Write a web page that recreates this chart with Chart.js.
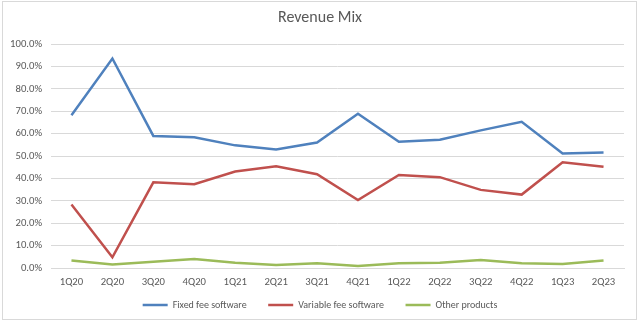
<!DOCTYPE html>
<html>
<head>
<meta charset="utf-8">
<title>Revenue Mix</title>
<script src="https://cdn.jsdelivr.net/npm/chart.js@4/dist/chart.umd.min.js"></script>
<style>
  html, body { margin: 0; padding: 0; background: #fff; }
  #holder { position: relative; width: 640px; height: 323px; }
</style>
</head>
<body>
<div id="holder"><canvas id="chart"></canvas></div>
<script>
// quarters on the x axis
var quarters = ['1Q20', '2Q20', '3Q20', '4Q20', '1Q21', '2Q21', '3Q21',
                '4Q21', '1Q22', '2Q22', '3Q22', '4Q22', '1Q23', '2Q23'];

// share of revenue, in percent
var fixedFee    = [68.3, 93.6, 59.0, 58.4, 54.8, 53.0, 56.1, 68.9, 56.4, 57.3, 61.5, 65.3, 51.2, 51.6];
var variableFee = [28.4, 4.8, 38.3, 37.4, 43.1, 45.5, 41.9, 30.4, 41.6, 40.6, 34.9, 32.8, 47.2, 45.2];
var otherProd   = [3.3, 1.6, 2.8, 4.0, 2.4, 1.3, 2.1, 0.9, 2.1, 2.4, 3.6, 2.1, 1.8, 3.3];

var yTicks = [0, 10, 20, 30, 40, 50, 60, 70, 80, 90, 100];

var FONT = "Carlito, Calibri, 'Liberation Sans Narrow', 'Liberation Sans', Arial, sans-serif";
var textGrey = '#595959';
var small = 10.67;

function series(label, data, color) {
    return {
        label: label,
        data: data,
        borderColor: color,
        backgroundColor: color,
        borderWidth: 2.5,
        pointRadius: 0,
        pointHoverRadius: 0,
        pointStyle: 'line',
        tension: 0
    };
}

// white sheet with a thin frame, like the excel chart box
var framePlugin = {
    id: 'frame',
    beforeDraw: function(chart) {
        var c = chart.ctx;
        c.save();
        c.fillStyle = '#fff';
        c.fillRect(0, 0, chart.width, chart.height);
        c.strokeStyle = '#d9d9d9';
        c.lineWidth = 1;
        c.strokeRect(2.5, 1.5, 634, 318);
        c.restore();
    }
};

new Chart(document.getElementById('chart'), {
    type: 'line',
    data: {
        labels: quarters,
        datasets: [
            series('Fixed fee software', fixedFee, '#4F81BD'),
            series('Variable fee software', variableFee, '#C0504D'),
            series('Other products', otherProd, '#9BBB59')
        ]
    },
    options: {
        responsive: true,
        maintainAspectRatio: false,
        animation: false,
        layout: { padding: { left: 8, right: 8, top: 0, bottom: 3 } },
        plugins: {
            title: {
                display: true,
                text: 'Revenue Mix',
                color: textGrey,
                font: { family: FONT, size: 16, weight: 'normal' },
                padding: { top: 8, bottom: 17 }
            },
            legend: {
                position: 'bottom',
                labels: {
                    usePointStyle: true,
                    pointStyle: 'line',
                    pointStyleWidth: 25,
                    boxWidth: 25,
                    boxHeight: 6,
                    padding: 8,
                    color: textGrey,
                    font: { family: FONT, size: 10 },
                    generateLabels: function(chart) {
                        var items = Chart.defaults.plugins.legend.labels.generateLabels(chart);
                        items.forEach(function(it, i) {
                            if (i < items.length - 1) it.text = it.text + '      ';
                        });
                        return items;
                    }
                }
            },
            tooltip: { enabled: false }
        },
        scales: {
            x: {
                offset: true,
                afterFit: function(scale) { scale.height = 24; },
                grid: { display: false, drawTicks: false },
                border: { display: true, color: '#d9d9d9' },
                ticks: {
                    color: textGrey,
                    font: { family: FONT, size: small },
                    padding: 8,
                    maxRotation: 0,
                    autoSkip: false
                }
            },
            y: {
                min: 0,
                max: 100,
                afterFit: function(scale) { scale.width = 43; },
                afterBuildTicks: function(scale) {
                    scale.ticks = yTicks.map(function(v) { return { value: v }; });
                },
                grid: { color: '#d9d9d9', drawTicks: false },
                border: { display: false },
                ticks: {
                    color: textGrey,
                    font: { family: FONT, size: small },
                    padding: 9,
                    callback: function(v) { return v.toFixed(1) + '%'; }
                }
            },
            // empty right axis, only keeps the plot clear of the right frame
            spacer: {
                type: 'linear',
                position: 'right',
                afterFit: function(scale) { scale.width = 8; },
                grid: { display: false, drawTicks: false },
                border: { display: false },
                ticks: { display: false }
            }
        }
    },
    plugins: [framePlugin]
});
</script>
</body>
</html>
